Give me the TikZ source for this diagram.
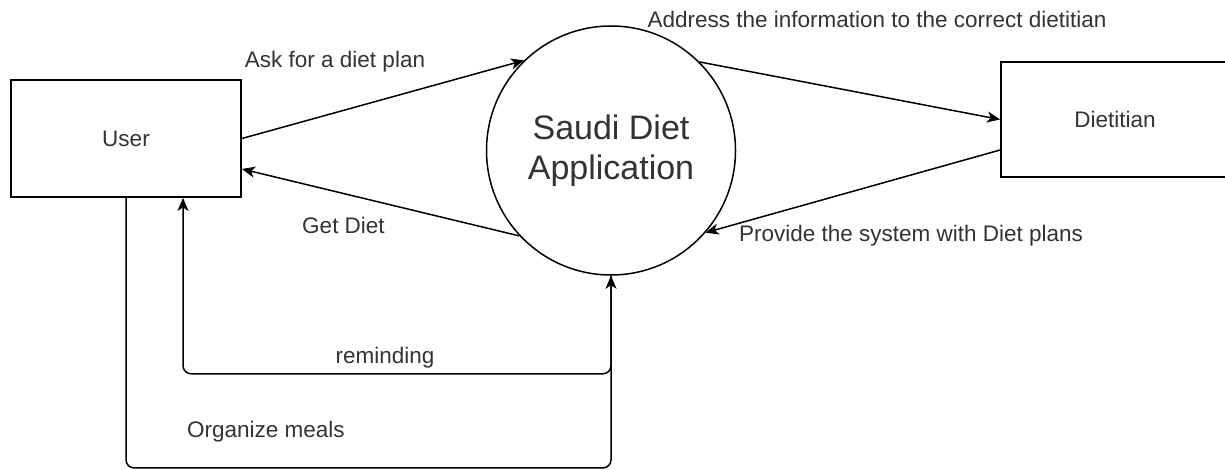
\documentclass[tikz,border=0pt]{standalone}
\usepackage{fontspec}
\setmainfont{Liberation Sans}
\usetikzlibrary{arrows.meta,calc}
\begin{document}
\begin{tikzpicture}[x=1pt,y=-1pt,
  line width=1.5pt,
  flow/.style={draw=black, line width=1.5pt, -{Stealth[length=13pt,width=11pt,inset=3.5pt]}},
  entity/.style={draw=black, line width=1.8pt, fill=white, inner sep=0pt,
    font=\fontsize{22.5}{27}\selectfont, text=black!80},
  process/.style={circle, draw=black, line width=1.5pt, fill=white, minimum size=249pt,
    inner sep=0pt, align=center, font=\fontsize{34}{40}\selectfont, text=black!80},
  lbl/.style={anchor=base, inner sep=0pt, font=\fontsize{22.5}{27}\selectfont, text=black!80},
]
\useasboundingbox (0,0) rectangle (1225,470);
\fill[white] (0,0) rectangle (1225,470);
\clip (0,0) rectangle (1225,470);

% external entities and the central process
\node[entity, minimum width=230pt, minimum height=117pt] (user) at (126,138.5) {User};
\node[entity, minimum width=228pt, minimum height=115pt] (diet) at (1115,119.5) {Dietitian};
\node[process] (app) at (611,150.5) {Saudi Diet\\Application};

% data flows
\draw[flow] (user.east) -- (app.134.5);
\draw[flow] (app.45.8) -- (diet.west);
\draw[flow] ([yshift=-30.5pt]diet.west) -- (app.-41);
\draw[flow] (app.223.5) -- ([yshift=-30.5pt]user.east);

\coordinate (userin) at ([xshift=57pt]user.south);
\draw[flow, rounded corners=8pt] (app.south) -- ++(0,98) -| (userin);
\draw[flow, rounded corners=8pt] (user.south) -- ++(0,270) -| (app.south);

% flow labels
\node[lbl] (ask)  at (335,68)   {Ask for a diet plan};
\node[lbl] (addr) at (877,28)   {Address the information to the correct dietitian};
\node[lbl] (prov) at (911,242)  {Provide the system with Diet plans};
\node[lbl] (get)  at (343.5,234) {Get Diet};
\node[lbl] (rem)  at (385,363)  {reminding};
\node[lbl] (org)  at (266,437)  {Organize meals};
\end{tikzpicture}
\end{document}
